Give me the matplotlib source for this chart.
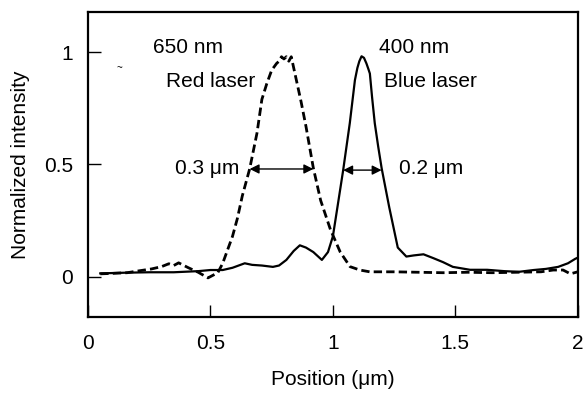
import matplotlib
matplotlib.use('Agg')
import matplotlib.pyplot as plt

plt.rcParams['font.family'] = ['Liberation Sans', 'DejaVu Sans']

# Red laser (650 nm), dashed trace
red_x = [0.05, 0.10, 0.16, 0.20, 0.26, 0.30, 0.33, 0.35, 0.37, 0.41, 0.45,
         0.49, 0.53, 0.55, 0.57, 0.59, 0.61, 0.63, 0.66, 0.69, 0.71, 0.73,
         0.75, 0.77, 0.78, 0.79, 0.80, 0.81, 0.82, 0.83, 0.845, 0.87, 0.89,
         0.92, 0.95, 0.99, 1.03, 1.07, 1.11, 1.15, 1.25, 1.35, 1.45, 1.55,
         1.65, 1.75, 1.85, 1.90, 1.94, 1.97, 2.0]
red_y = [0.013, 0.015, 0.018, 0.025, 0.035, 0.045, 0.058, 0.05, 0.062, 0.04,
         0.02, -0.005, 0.018, 0.06, 0.12, 0.18, 0.26, 0.36, 0.48, 0.64, 0.79,
         0.86, 0.92, 0.95, 0.96, 0.98, 0.97, 0.98, 0.96, 0.98, 0.905, 0.78,
         0.67, 0.485, 0.34, 0.21, 0.11, 0.045, 0.03, 0.022, 0.022, 0.02,
         0.018, 0.02, 0.018, 0.02, 0.022, 0.03, 0.03, 0.013, 0.022]

# Blue laser (400 nm), solid trace
blue_x = [0.05, 0.15, 0.25, 0.35, 0.45, 0.50, 0.55, 0.59, 0.64, 0.67, 0.71,
          0.755, 0.78, 0.81, 0.84, 0.865, 0.89, 0.92, 0.955, 0.98, 1.0, 1.02,
          1.042, 1.069, 1.09, 1.10, 1.108, 1.117, 1.127, 1.137, 1.145, 1.151,
          1.16, 1.171, 1.185, 1.199, 1.23, 1.265, 1.30, 1.33, 1.37, 1.41,
          1.45, 1.49, 1.56, 1.63, 1.70, 1.76, 1.82, 1.87, 1.92, 1.96, 1.99,
          2.0]
blue_y = [0.015, 0.018, 0.02, 0.02, 0.025, 0.03, 0.03, 0.04, 0.06, 0.053,
          0.05, 0.044, 0.05, 0.075, 0.115, 0.14, 0.13, 0.11, 0.075, 0.11, 0.18,
          0.32, 0.475, 0.684, 0.876, 0.93, 0.96, 0.982, 0.975, 0.95, 0.925,
          0.905, 0.80, 0.684, 0.58, 0.484, 0.31, 0.13, 0.09, 0.095, 0.1,
          0.083, 0.065, 0.044, 0.031, 0.031, 0.025, 0.022, 0.03, 0.035, 0.044,
          0.06, 0.08, 0.085]

# FWHM arrows: (x_start, x_end, y)
red_fwhm = (0.66, 0.92, 0.48)
blue_fwhm = (1.042, 1.199, 0.475)

x_ticks = [0, 0.5, 1, 1.5, 2]
x_tick_labels = ['0', '0.5', '1', '1.5', '2']
y_ticks = [0, 0.5, 1]
y_tick_labels = ['0', '0.5', '1']

fig = plt.figure(figsize=(5.83, 3.94), dpi=100)
ax = fig.add_axes([0.151, 0.195, 0.840, 0.775])

ax.plot(red_x, red_y, color='black', linewidth=2.0, linestyle=(0, (3, 1.5)))
ax.plot(blue_x, blue_y, color='black', linewidth=1.6)

for x0, x1, y in (red_fwhm, blue_fwhm):
    ax.annotate('', xy=(x0, y), xytext=(x1, y),
                arrowprops=dict(arrowstyle='<|-|>', color='black', lw=1.0,
                                mutation_scale=14, shrinkA=0, shrinkB=0))

ax.text(0.41, 1.02, '650 nm', fontsize=15, ha='center', va='center')
ax.text(0.50, 0.87, 'Red laser', fontsize=15, ha='center', va='center')
ax.text(1.33, 1.02, '400 nm', fontsize=15, ha='center', va='center')
ax.text(1.40, 0.87, 'Blue laser', fontsize=15, ha='center', va='center')
ax.text(0.487, 0.48, '0.3 \u03bcm', fontsize=15, ha='center', va='center')
ax.text(1.40, 0.48, '0.2 \u03bcm', fontsize=15, ha='center', va='center')
ax.text(0.13, 0.93, '~', fontsize=7, ha='center', va='center')

ax.set_xlim(0, 2)
ax.set_ylim(-0.18, 1.18)
ax.set_xticks(x_ticks)
ax.set_xticklabels(x_tick_labels)
ax.set_yticks(y_ticks)
ax.set_yticklabels(y_tick_labels)
ax.tick_params(direction='in', length=9, width=1.0, labelsize=15)
ax.tick_params(axis='x', pad=12)
ax.tick_params(axis='y', pad=11)
for s in ax.spines.values():
    s.set_linewidth(1.6)

ax.set_xlabel('Position (\u03bcm)', fontsize=15, labelpad=12)
ax.set_ylabel('Normalized intensity', fontsize=15, labelpad=10)

fig.savefig('out.png', dpi=100)
